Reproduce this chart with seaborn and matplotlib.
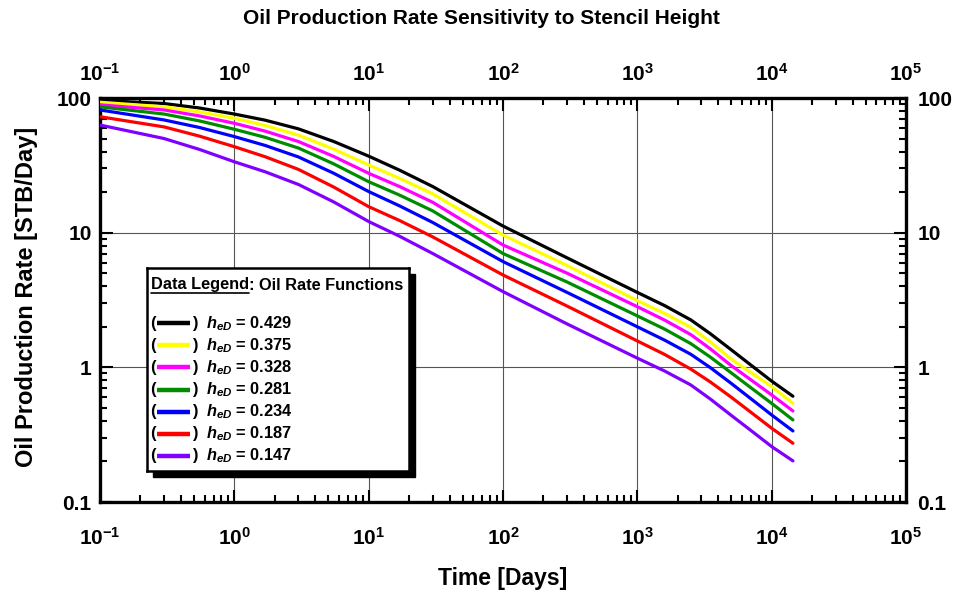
import numpy as np
import pandas as pd
import matplotlib
matplotlib.use("Agg")
import matplotlib.pyplot as plt
import seaborn as sns
from matplotlib.patches import Rectangle
from matplotlib.transforms import ScaledTranslation
from matplotlib.ticker import FixedLocator, LogLocator, NullFormatter, FixedFormatter

# ---------------- data ----------------
time_days = [0.1, 0.3, 0.55, 1, 1.7, 3, 5.5, 10, 17, 30, 100, 300, 1000, 1600, 2500,
             3500, 5000, 7000, 10000, 14400]
h_eD = ["0.429", "0.375", "0.328", "0.281", "0.234", "0.187", "0.147"]
rate_0429 = [96, 91, 84.3, 76, 68.4, 59, 47.5, 37, 29.1, 22, 11.2, 6.5, 3.6, 2.87, 2.25,
             1.775, 1.35, 1.04, 0.79, 0.61]
rate_0375 = [93, 86, 78.9, 70.7, 62.5, 53, 41.7, 31.8, 25.3, 19.4, 9.6, 5.7, 3.13, 2.51, 1.98,
             1.54, 1.15, 0.916, 0.72, 0.54]
rate_0328 = [89, 81.5, 73.6, 64.9, 56.7, 47.5, 36.8, 27.6, 22.0, 16.8, 8.1, 5.0, 2.82, 2.24, 1.75,
             1.37, 1.03, 0.808, 0.624, 0.474]
rate_0281 = [86, 76, 67.6, 58.6, 51.0, 42.5, 32.4, 23.9, 19.0, 14.5, 7.0, 4.3, 2.41, 1.92, 1.5,
             1.19, 0.91, 0.706, 0.54, 0.407]
rate_0234 = [81.5, 68.7, 60.4, 51.7, 44.4, 36.5, 27.6, 20.2, 15.8, 11.9, 6.1, 3.6, 2.0, 1.59, 1.25,
             0.994, 0.76, 0.585, 0.443, 0.337]
rate_0187 = [72.6, 61, 52.1, 43.5, 36.6, 29.5, 21.8, 15.6, 12.3, 9.3, 4.85, 2.85, 1.57, 1.245, 0.97,
             0.778, 0.6, 0.464, 0.353, 0.273]
rate_0147 = [63, 50, 41.5, 33.6, 28.3, 22.8, 16.9, 12.1, 9.4, 7.0, 3.65, 2.1, 1.17, 0.938, 0.74,
             0.581, 0.44, 0.340, 0.258, 0.202]
series_rates = [rate_0429, rate_0375, rate_0328, rate_0281, rate_0234, rate_0187, rate_0147]
colors = ["#000000", "#FFFF00", "#FF00FF", "#008C00", "#0000FF", "#FF0000", "#7F00FF"]

x_ticks = [0.1, 1, 10, 100, 1000, 10000, 100000]
x_ticklabels = [r"$10^{-1}$", r"$10^{0}$", r"$10^{1}$", r"$10^{2}$", r"$10^{3}$", r"$10^{4}$", r"$10^{5}$"]
y_ticks = [0.1, 1, 10, 100]
y_ticklabels = ["0.1", "1", "10", "100"]

title = "Oil Production Rate Sensitivity to Stencil Height"
x_label = "Time [Days]"
y_label = "Oil Production Rate [STB/Day]"
legend_title_u = "Data Legend"
legend_title_rest = ": Oil Rate Functions"

# ---------------- style ----------------
sns.set_theme(style="white")
plt.rcParams["font.family"] = ["Liberation Sans", "DejaVu Sans"]
plt.rcParams["font.weight"] = "bold"
plt.rcParams["text.color"] = "black"
plt.rcParams["axes.labelcolor"] = "black"
plt.rcParams["xtick.color"] = "black"
plt.rcParams["ytick.color"] = "black"
plt.rcParams["mathtext.fontset"] = "custom"
plt.rcParams["mathtext.rm"] = "Liberation Sans:bold"
plt.rcParams["mathtext.bf"] = "Liberation Sans:bold"
plt.rcParams["mathtext.it"] = "Liberation Sans:italic:bold"

W, H = 961, 598
fig = plt.figure(figsize=(W / 100, H / 100), dpi=100)

def fx(px):
    return px / W

def fy(py):
    return 1 - py / H

ax_l, ax_r, ax_t, ax_b = 100, 906, 98, 502
ax = fig.add_axes([fx(ax_l), fy(ax_b), fx(ax_r - ax_l), (ax_b - ax_t) / H])

rows = []
for lab, rates in zip(h_eD, series_rates):
    for t, q in zip(time_days, rates):
        rows.append({"time": t, "rate": q, "heD": lab})
df = pd.DataFrame(rows)

ax.set_xscale("log")
ax.set_yscale("log")
sns.lineplot(data=df, x="time", y="rate", hue="heD", hue_order=h_eD,
             palette=colors, linewidth=2.3, legend=False, ax=ax, sort=True,
             estimator=None, zorder=3)

ax.set_xlim(0.1, 1e5)
ax.set_ylim(0.1, 100)
ax.xaxis.set_major_locator(FixedLocator(x_ticks))
ax.xaxis.set_major_formatter(FixedFormatter(x_ticklabels))
ax.yaxis.set_major_locator(FixedLocator(y_ticks))
ax.yaxis.set_major_formatter(FixedFormatter(y_ticklabels))
ax.xaxis.set_minor_locator(LogLocator(base=10, subs=np.arange(2, 10), numticks=30))
ax.yaxis.set_minor_locator(LogLocator(base=10, subs=np.arange(2, 10), numticks=30))
ax.xaxis.set_minor_formatter(NullFormatter())
ax.yaxis.set_minor_formatter(NullFormatter())
ax.set_xlabel("")
ax.set_ylabel("")

ax.grid(True, which="major", color="#555555", linewidth=0.8, zorder=1)
ax.grid(False, which="minor")
for s in ax.spines.values():
    s.set_linewidth(2.4)
    s.set_color("black")
    s.set_visible(True)

ax.tick_params(which="both", direction="in", top=True, right=True, bottom=True, left=True,
               labeltop=True, labelright=True, colors="black")
ax.tick_params(which="major", length=9, width=1.5)
ax.tick_params(which="minor", length=5, width=1.5)
ax.tick_params(axis="x", which="major", pad=11, labelsize=15)
ax.tick_params(axis="y", which="major", labelsize=15, pad=6)

# shift bottom x labels a bit further down and right y labels a bit further right
for tk in ax.xaxis.get_major_ticks(len(x_ticks)):
    tk.label1.set_transform(tk.label1.get_transform() + ScaledTranslation(0, -10 / 100, fig.dpi_scale_trans))
    tk.label2.set_transform(tk.label2.get_transform() + ScaledTranslation(0, -2 / 100, fig.dpi_scale_trans))
for tk in ax.yaxis.get_major_ticks(len(y_ticks)):
    tk.label2.set_transform(tk.label2.get_transform() + ScaledTranslation(3 / 100, 0, fig.dpi_scale_trans))
for lab in ax.get_yticklabels() + ax.get_xticklabels():
    lab.set_fontweight("bold")

fig.text(fx(481.5), fy(18), title, ha="center", va="center", fontsize=15, fontweight="bold")
fig.text(fx(503), fy(578), x_label, ha="center", va="center", fontsize=16.5, fontweight="bold")
fig.text(fx(27), fy(297), y_label, ha="center", va="center", rotation=90, fontsize=17,
         fontweight="bold")

# ---------------- custom legend box ----------------
lg_l, lg_t, lg_w, lg_h = 147, 268, 262, 203
shadow = 6
fig.add_artist(Rectangle((fx(lg_l + shadow), fy(lg_t + lg_h + shadow)), lg_w / W, lg_h / H,
                         transform=fig.transFigure, facecolor="black", edgecolor="black", zorder=5))
lax = fig.add_axes([fx(lg_l), fy(lg_t + lg_h), lg_w / W, lg_h / H], zorder=6)
lax.set_xlim(0, lg_w)
lax.set_ylim(lg_h, 0)
lax.set_xticks([])
lax.set_yticks([])
lax.set_facecolor("white")
for s in lax.spines.values():
    s.set_linewidth(1.8)
    s.set_color("black")
    s.set_visible(True)

fs_leg = 11.8
t1 = lax.text(4, 17, legend_title_u, ha="left", va="center", fontsize=fs_leg, fontweight="bold")
fig.canvas.draw()
r = fig.canvas.get_renderer()
bb = t1.get_window_extent(renderer=r)
inv = lax.transData.inverted()
(x0, y0), (x1, y1) = inv.transform([[bb.x0, bb.y0], [bb.x1, bb.y1]])
lax.text(x1, 17, legend_title_rest, ha="left", va="center", fontsize=fs_leg, fontweight="bold")
lax.plot([x0, x1], [24.5, 24.5], color="black", lw=1.2)

row_y0, row_dy = 55.3, 22.07
for i, (lab, c) in enumerate(zip(h_eD, colors)):
    yy = row_y0 + i * row_dy
    lax.text(3, yy, "(", ha="left", va="center", fontsize=fs_leg, fontweight="bold")
    lax.plot([10, 43], [yy, yy], color=c, lw=3.2, solid_capstyle="butt")
    lax.text(45, yy, ")", ha="left", va="center", fontsize=fs_leg, fontweight="bold")
    lax.text(59, yy, r"$h_{eD}$ = " + lab, ha="left", va="center", fontsize=fs_leg,
             fontweight="bold")

fig.savefig("out.png", dpi=100)
